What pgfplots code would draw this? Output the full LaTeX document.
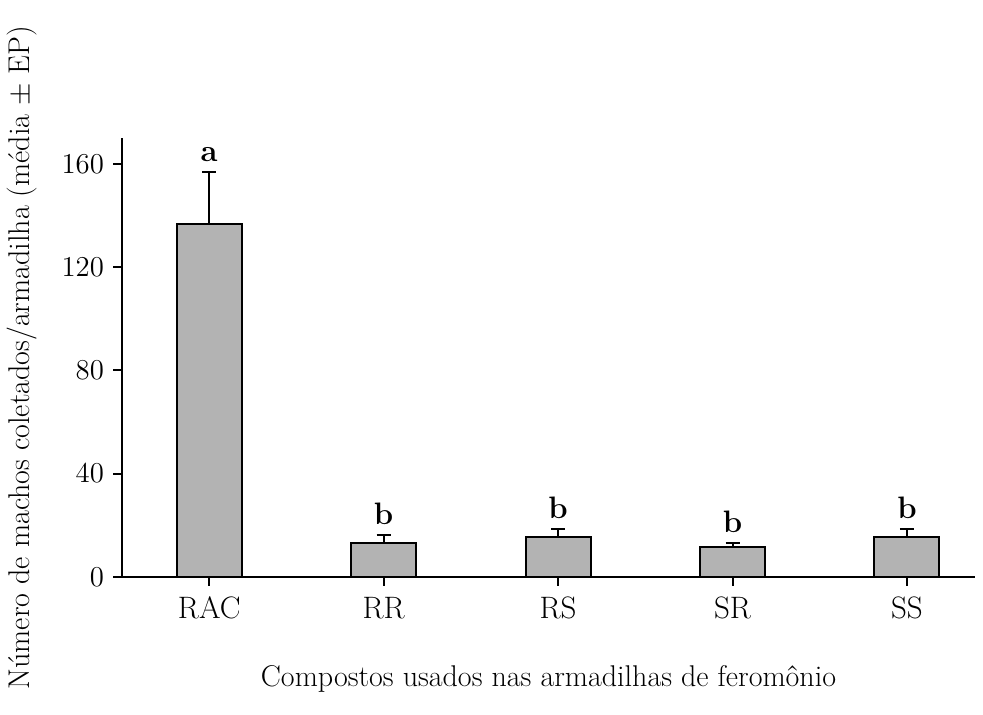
\documentclass[border=0pt]{standalone}
\usepackage{pgfplots}
\pgfplotsset{compat=1.18}
\definecolor{barg}{RGB}{179,179,179}
\begin{document}
\begin{tikzpicture}[font=\fontsize{15}{18}\selectfont]
\path (0,0) rectangle (491.5pt,357.5pt);
\begin{axis}[
  at={(61pt,69pt)}, anchor=south west,
  scale only axis, width=426.5pt, height=219.5pt,
  xmin=-0.5, xmax=4.39, ymin=0, ymax=170,
  axis lines*=left,
  axis line style={line width=1pt, black},
  xtick={0,1,2,3,4}, xticklabels={RAC,RR,RS,SR,SS},
  ytick={0,40,80,120,160},
  tick align=outside, major tick length=4.5pt,
  tick style={line width=1pt, black},
  every tick label/.append style={font=\fontsize{15.5}{18}\selectfont},
  yticklabel style={xshift=-1pt},
  xticklabel style={yshift=-2pt},
  xlabel={Compostos usados nas armadilhas de feromônio},
  ylabel={Número de machos coletados/armadilha (média $\pm$ EP)},
  xlabel style={at={(axis description cs:0.5,-0.232)}, anchor=center},
  ylabel style={at={(axis description cs:-0.117,0.5)}, anchor=center},
  clip=false,
]
\addplot[ybar, bar width=32.5pt, fill=barg, draw=black, line width=1pt,
  error bars/.cd, y dir=plus, y explicit,
  error bar style={line width=1pt, black},
  error mark options={rotate=90, mark size=3.5pt, line width=1pt, black}]
  table[x=x, y=y, y error=e] {
x y e
0 136.6 20.3
1 13.2 3.2
2 15.5 3.1
3 11.5 1.7
4 15.5 3.1
};
\addplot[draw=none, mark=none, nodes near coords, point meta=explicit symbolic,
  nodes near coords style={font=\bfseries\fontsize{15.5}{18}\selectfont, anchor=south, inner sep=0pt, yshift=5pt}]
  table[x=x, y=y, meta=l] {
x y l
0 156.9 a
1 16.4 b
2 18.6 b
3 13.2 b
4 18.6 b
};
\end{axis}
\end{tikzpicture}
\end{document}
